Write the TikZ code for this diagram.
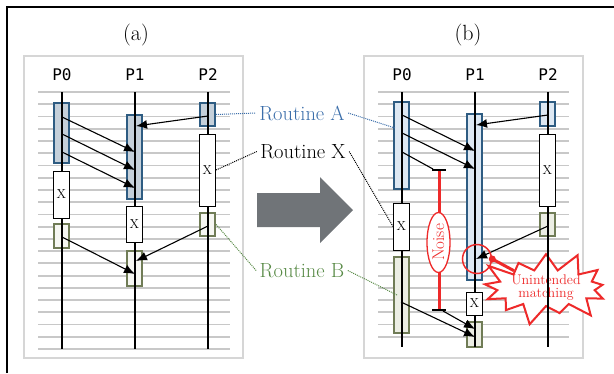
\documentclass[tikz,border=0pt]{standalone}
\usepackage{fontspec}
\usepackage{xcolor}
\usepackage{tikz}
\usetikzlibrary{arrows.meta, shapes.geometric, shapes.symbols, positioning}
\newfontfamily\procfont{DejaVu Sans Mono}
\definecolor{panelgray}{RGB}{214,214,214}
\definecolor{gridgray}{RGB}{200,200,200}
\definecolor{routblue}{RGB}{46,92,130}
\definecolor{textblue}{RGB}{59,110,170}
\definecolor{fillblueA}{RGB}{197,208,218}
\definecolor{fillblueB}{RGB}{221,232,243}
\definecolor{routgreen}{RGB}{112,124,86}
\definecolor{textgreen}{RGB}{88,138,70}
\definecolor{fillgreenA}{RGB}{246,247,242}
\definecolor{fillgreenB}{RGB}{236,238,228}
\definecolor{shiftgray}{RGB}{112,116,120}
\definecolor{alertred}{RGB}{238,42,42}

\begin{document}
\begin{tikzpicture}[
  x=1pt, y=-1pt,
  panel/.style={draw=panelgray, line width=1.5pt, fill=white},
  gridln/.style={draw=gridgray, line width=1.8pt},
  procln/.style={line width=1.6pt},
  rbox/.style={rectangle, inner sep=0pt, minimum width=15pt, line width=2.2pt},
  routA/.style={rbox, draw=routblue, fill=fillblueA},
  routB/.style={rbox, draw=routgreen, fill=fillgreenA},
  xbox/.style={rectangle, inner sep=0pt, minimum width=16pt, draw=black, line width=1pt,
               fill=white, font=\fontsize{13}{13}\selectfont},
  msg/.style={-{Latex[length=11pt,width=9pt]}, line width=1.1pt},
  title/.style={font=\fontsize{22}{24}\selectfont},
  pname/.style={font=\procfont\fontsize{16}{16}\selectfont},
  rname/.style={font=\fontsize{20.5}{22}\selectfont},
  dotlink/.style={densely dotted, line width=1pt},
  noisebar/.style={draw=alertred, line width=3pt,
                   {Bar[color=black,width=14pt,line width=2pt]}-{Bar[color=black,width=14pt,line width=2pt]}},
  burst/.style={starburst, draw=alertred, fill=white, line width=2pt, starburst points=13,
                starburst point height=22pt, minimum width=116pt, minimum height=72pt,
                inner sep=0pt, text=alertred, align=center, font=\fontsize{14}{13}\selectfont}
]
  \useasboundingbox (0,0) rectangle (614,373);
  \draw[line width=2pt] (7,373) -- (7,7) -- (614,7);

  % panels and time grid
  \draw[panel] (24,56) rectangle (243,358);
  \draw[panel] (364,56) rectangle (583,358);
  \foreach \k in {0,...,21} \draw[gridln] (38,{92+12.24*\k}) -- (230,{92+12.24*\k});
  \foreach \k in {0,...,20} \draw[gridln] (378,{92+12.24*\k}) -- (569,{92+12.24*\k});

  \node[title] (ta) at (136,35) {(a)};
  \node[title] (tb) at (468,35) {(b)};
  \foreach \px/\pn in {62/P0,135/P1,208/P2,402/P0,475/P1,548/P2}
    \node[pname] (lab\px) at (\px,74.5) {\pn};

  \node[burst] (hitbox) at (546,288) {Unintended\\matching};

  % panel (a) routines
  \node[routA, minimum height=60pt] (aA0) at (61.5,133) {};
  \node[routA, minimum height=84pt] (aA1) at (134.5,157) {};
  \node[routA, minimum height=23pt] (aA2) at (207.5,114.5) {};
  \node[routB, minimum height=24pt] (aB0) at (61.5,236) {};
  \node[routB, minimum height=35pt] (aB1) at (134.5,268.5) {};
  \node[routB, minimum height=23pt] (aB2) at (207.5,224.5) {};

  % panel (b) routines
  \node[routA, fill=fillblueB, minimum height=87pt] (bA0) at (401.5,145.5) {};
  \node[routA, fill=fillblueB, minimum height=166pt] (bA1) at (474.5,197) {};
  \node[routA, fill=fillblueB, minimum height=24pt] (bA2) at (547.5,114) {};
  \node[routB, fill=fillgreenB, minimum height=76pt] (bB0) at (401.5,295) {};
  \node[routB, fill=fillgreenB, minimum height=25pt] (bB1) at (474.5,334.5) {};
  \node[routB, fill=fillgreenB, minimum height=23pt] (bB2) at (547.5,224.5) {};

  \foreach \px in {62,135,208} \draw[procln] (\px,92) -- (\px,349);
  \foreach \px in {402,475,548} \draw[procln] (\px,92) -- (\px,347);

  \node[xbox, minimum height=47pt] (aX0) at (61.5,194.5) {X};
  \node[xbox, minimum height=36pt] (aX1) at (134.5,224) {X};
  \node[xbox, minimum height=72pt] (aX2) at (207.5,170) {X};
  \node[xbox, minimum height=47pt] (bX0) at (401.5,226.5) {X};
  \node[xbox, minimum height=23pt] (bX1) at (474.5,303.5) {X};
  \node[xbox, minimum height=72pt] (bX2) at (547.5,170) {X};

  % messages (a)
  \coordinate (a0s1) at (62,117);  \coordinate (a1e1) at (135,152);
  \coordinate (a0s2) at (62,134);  \coordinate (a1e2) at (135,170);
  \coordinate (a0s3) at (62,152);  \coordinate (a1e3) at (135,188);
  \coordinate (a2s1) at (208,116); \coordinate (a1e4) at (136,126);
  \coordinate (a0s4) at (62,237);  \coordinate (a1e5) at (135,274);
  \coordinate (a2s2) at (208,226); \coordinate (a1e6) at (136,261);
  \draw[msg] (a0s1) -- (a1e1);
  \draw[msg] (a0s2) -- (a1e2);
  \draw[msg] (a0s3) -- (a1e3);
  \draw[msg] (a2s1) -- (a1e4);
  \draw[msg] (a0s4) -- (a1e5);
  \draw[msg] (a2s2) -- (a1e6);

  % messages (b)
  \coordinate (b0s1) at (402,115); \coordinate (b1e1) at (475,151);
  \coordinate (b0s2) at (402,133); \coordinate (b1e2) at (475,169);
  \coordinate (b0s3) at (402,152); \coordinate (nzL) at (433,169);
  \coordinate (b2s1) at (548,115); \coordinate (b1e3) at (476,125);
  \coordinate (b0s4) at (401,302); \coordinate (b1e4) at (475,337);
  \coordinate (nzR) at (443,311);  \coordinate (b1e5) at (475,329);
  \coordinate (b2s2) at (548,226); \coordinate (b1e6) at (476,259);
  \draw[msg] (b0s1) -- (b1e1);
  \draw[msg] (b0s2) -- (b1e2);
  \draw[line width=1.1pt] (b0s3) -- (nzL);
  \draw[msg] (b2s1) -- (b1e3);
  \draw[msg] (b0s4) -- (b1e4);
  \draw[msg] (nzR) -- (b1e5);
  \draw[msg] (b2s2) -- (b1e6);

  % noise
  \coordinate (nzTop) at (439,169);
  \coordinate (nzBot) at (439,311);
  \draw[noisebar] (nzTop) -- (nzBot);
  \node[ellipse, draw=alertred, fill=white, line width=1.3pt, rotate=90, inner sep=0pt,
        minimum width=60pt, minimum height=23pt, text=alertred,
        font=\fontsize{17}{17}\selectfont] (noise) at (438.5,242.5) {Noise};

  \node[circle, draw=alertred, line width=1.5pt, minimum size=29pt, inner sep=0pt] (hit) at (477,259) {};
  \draw[alertred, line width=3pt] (hit.east) -- (hitbox);
  \fill[alertred] (hit.east) circle (3.5pt);

  % routine legend
  \fill[shiftgray] (257,193) -- (320,193) -- (320,177) -- (353,210) -- (320,243) -- (320,227) -- (257,227) -- cycle;
  \node[rname, text=textblue] (rA) at (302,113) {Routine A};
  \node[rname] (rX) at (303,151.5) {Routine X};
  \node[rname, text=textgreen] (rB) at (302,270.5) {Routine B};
  \coordinate (bAin) at (395,128);
  \coordinate (bBin) at (397,295);
  \draw[dotlink, textblue] (aA2.east) -- (rA.west);
  \draw[dotlink, textblue] (rA.east) -- (bAin);
  \draw[dotlink] (aX2.east) -- (rX.west);
  \draw[dotlink] (rX.east) -- (bX0.west);
  \draw[dotlink, textgreen] (aB2.east) -- (rB.west);
  \draw[dotlink, textgreen] (rB.east) -- (bBin);
\end{tikzpicture}
\end{document}
